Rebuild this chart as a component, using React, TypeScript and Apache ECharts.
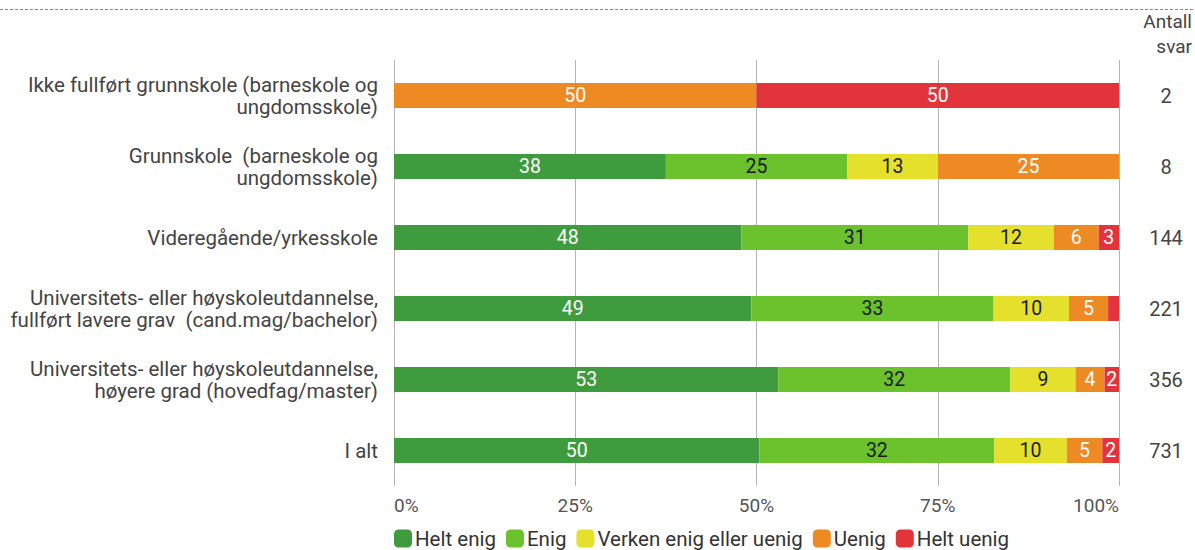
import React, { useEffect, useRef } from "react";
import * as echarts from "echarts";

const categories = [
  "Ikke fullført grunnskole (barneskole og\nungdomsskole)",
  "Grunnskole  (barneskole og\nungdomsskole)",
  "Videregående/yrkesskole",
  "Universitets- eller høyskoleutdannelse,\nfullført lavere grav  (cand.mag/bachelor)",
  "Universitets- eller høyskoleutdannelse,\nhøyere grad (hovedfag/master)",
  "I alt",
];
const counts = ["2", "8", "144", "221", "356", "731"];
const seriesNames = ["Helt enig", "Enig", "Verken enig eller uenig", "Uenig", "Helt uenig"];
const heltEnig = [0, 37.5, 47.9, 49.3, 53, 50.4];
const enig = [0, 25, 31.3, 33.4, 32, 32.4];
const verken = [0, 12.5, 11.8, 10.4, 9, 10.0];
const uenig = [50, 25, 6.2, 5.4, 4, 4.9];
const heltUenig = [50, 0, 2.8, 1.5, 2, 2.3];
const xTicks = [0, 25, 50, 75, 100];

const colors = ["#3e9c3e", "#6cc22d", "#e5e02c", "#ee8a23", "#e4343b"];
const labelColors = ["#ffffff", "#1a1a1a", "#1a1a1a", "#ffffff", "#ffffff"];

export default function App() {
  const ref = useRef<HTMLDivElement>(null);
  useEffect(() => {
    document.body.style.margin = "0";
    const chart = echarts.init(ref.current!, undefined, { renderer: "svg" });
    const data = [heltEnig, enig, verken, uenig, heltUenig];
    chart.setOption({
      animation: false,
      textStyle: { fontFamily: "Roboto" },
      grid: { left: 394, right: 76, top: 60, bottom: 550 - 486 },
      legend: {
        left: 394,
        top: 528,
        padding: 0,
        itemWidth: 18,
        itemHeight: 18,
        itemGap: 10,
        icon: "roundRect",
        textStyle: { fontSize: 20.5, lineHeight: 20, color: "#333", padding: [0, 0, 0, -2] },
        data: seriesNames,
      },
      xAxis: {
        type: "value",
        min: xTicks[0],
        max: xTicks[xTicks.length - 1],
        interval: 25,
        axisLine: { show: false },
        axisTick: { show: false },
        splitLine: { lineStyle: { color: "#b5b5b5", width: 1 } },
        axisLabel: {
          formatter: "{value}%",
          fontSize: 19,
          color: "#555",
          margin: 10,
          alignMinLabel: "left",
          alignMaxLabel: "right",
        },
      },
      yAxis: [
        {
          type: "category",
          data: categories,
          inverse: true,
          axisLine: { show: false },
          axisTick: { show: false },
          axisLabel: { fontSize: 20.5, color: "#444", lineHeight: 22, margin: 16, align: "right" },
        },
        {
          type: "category",
          data: counts,
          inverse: true,
          position: "right",
          axisLine: { show: false },
          axisTick: { show: false },
          axisLabel: { fontSize: 20, color: "#444", margin: 47, align: "center" },
        },
      ],
      graphic: [
        {
          type: "line",
          shape: { x1: 0, y1: 9.5, x2: 1195, y2: 9.5 },
          style: { stroke: "#888", lineWidth: 1, lineDash: [3, 2] },
        },
        {
          type: "text",
          x: 1192,
          y: 9,
          style: {
            text: "Antall\nsvar",
            fontSize: 19,
            fill: "#444",
            align: "right",
            lineHeight: 25,
            fontFamily: "Roboto",
          },
        },
      ],
      series: seriesNames.map((name, i) => ({
        name,
        type: "bar",
        stack: "total",
        barWidth: 25,
        itemStyle: { color: colors[i] },
        label: {
          show: true,
          position: "inside",
          fontSize: 19.5,
          color: labelColors[i],
          formatter: (p: any) => (p.value > 1.6 ? String(Math.round(p.value)) : ""),
        },
        data: data[i],
      })),
    });
    return () => chart.dispose();
  }, []);
  return <div ref={ref} style={{ width: 1195, height: 550 }} />;
}
